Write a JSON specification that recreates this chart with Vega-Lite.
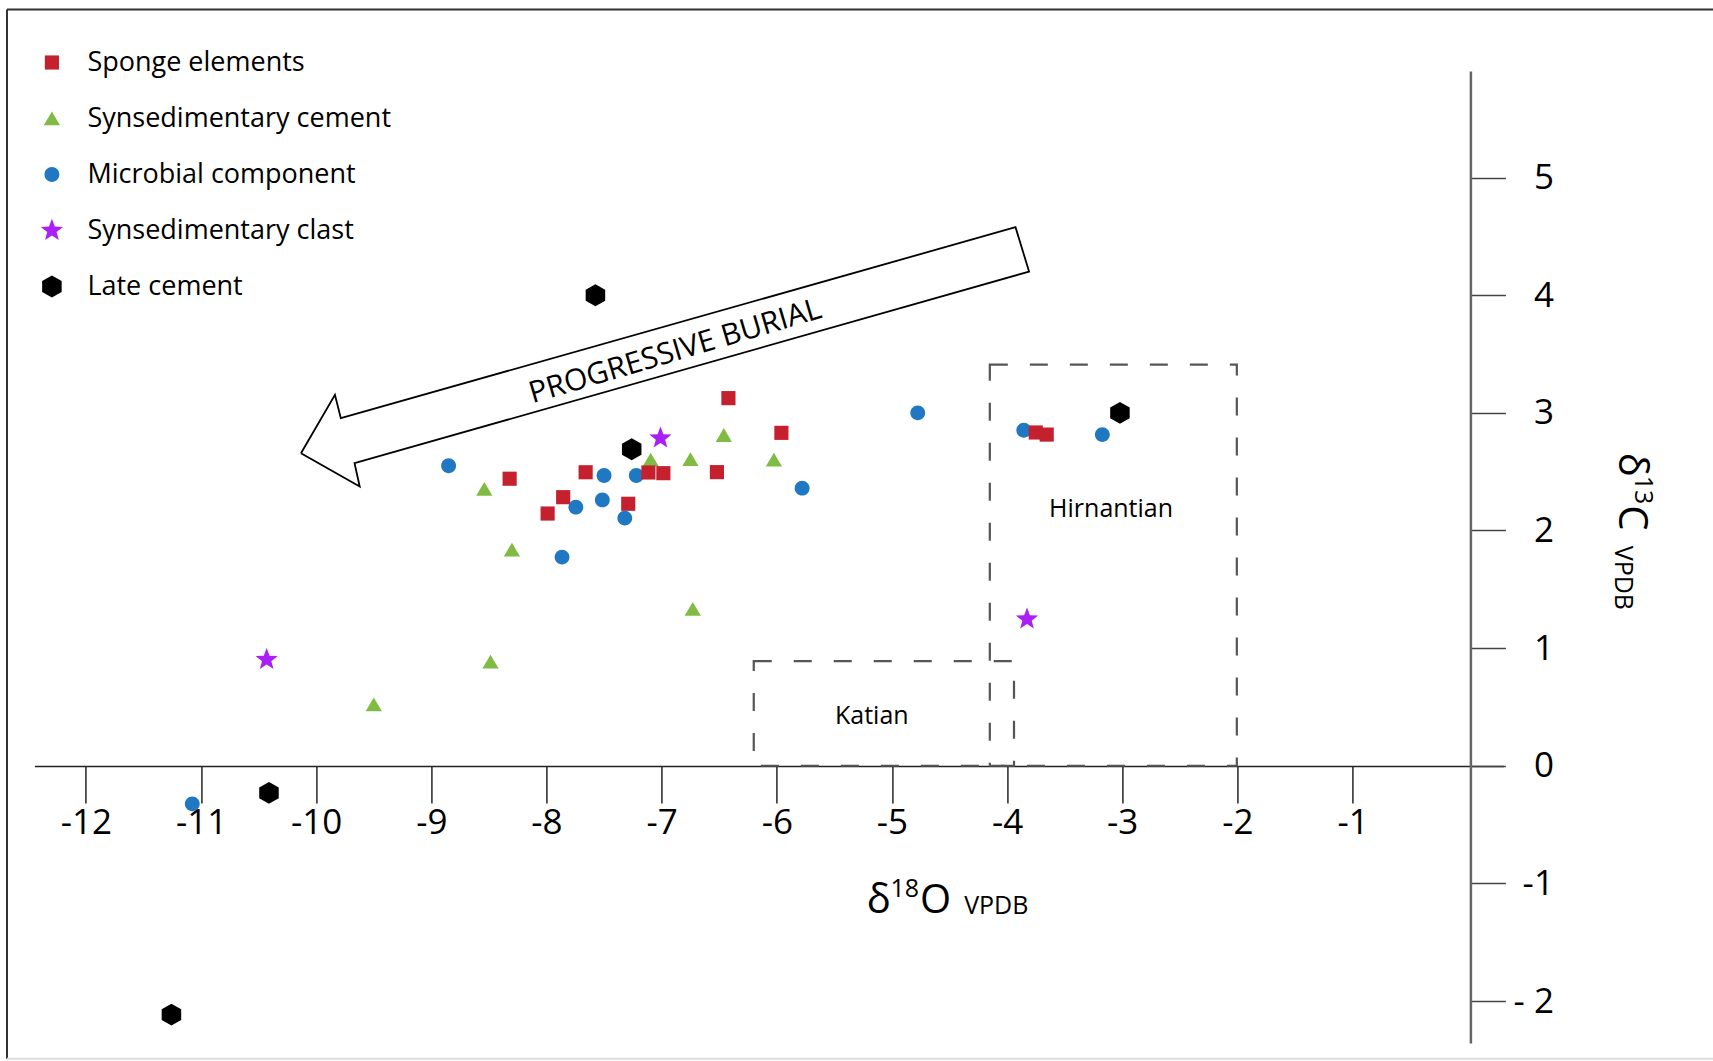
{
  "$schema": "https://vega.github.io/schema/vega-lite/v6.json",
  "width": 1469,
  "height": 972,
  "padding": {"left": 34.4, "top": 71, "right": 209.6, "bottom": 18},
  "autosize": {"type": "none"},
  "background": "white",
  "config": {
    "view": {"stroke": null},
    "font": "Open Sans",
    "text": {"font": "Open Sans", "color": "black"},
    "axisX": {
      "orient": "bottom", "offset": -277, "grid": false, "tickSize": 37, "tickWidth": 1.6, "tickColor": "#333",
      "domainColor": "#222", "domainWidth": 1.6, "labelFontSize": 35, "labelFont": "Open Sans",
      "labelColor": "black", "labelPadding": 2, "labelFlush": false, "labelOverlap": false
    },
    "axisY": {
      "orient": "right", "offset": -33, "grid": false, "tickSize": 35, "tickWidth": 1.6, "tickColor": "#444",
      "domainColor": "#666", "domainWidth": 2.5, "labelFontSize": 35, "labelFont": "Open Sans",
      "labelColor": "black", "labelPadding": 48, "labelAlign": "right", "labelBaseline": "middle",
      "labelFlush": false, "labelOverlap": false
    }
  },
  "datasets": {
    "points": [
      {"type": "Late cement", "d18O": -7.575, "d13C": 4.0},
      {"type": "Sponge elements", "d18O": -6.42, "d13C": 3.125},
      {"type": "Synsedimentary clast", "d18O": -7.01, "d13C": 2.785},
      {"type": "Synsedimentary cement", "d18O": -6.46, "d13C": 2.81},
      {"type": "Sponge elements", "d18O": -5.96, "d13C": 2.83},
      {"type": "Late cement", "d18O": -7.26, "d13C": 2.69},
      {"type": "Microbial component", "d18O": -8.85, "d13C": 2.55},
      {"type": "Synsedimentary cement", "d18O": -7.095, "d13C": 2.6},
      {"type": "Synsedimentary cement", "d18O": -6.75, "d13C": 2.605},
      {"type": "Synsedimentary cement", "d18O": -6.025, "d13C": 2.6},
      {"type": "Sponge elements", "d18O": -8.32, "d13C": 2.44},
      {"type": "Sponge elements", "d18O": -7.66, "d13C": 2.495},
      {"type": "Microbial component", "d18O": -7.5, "d13C": 2.467},
      {"type": "Microbial component", "d18O": -7.22, "d13C": 2.467},
      {"type": "Sponge elements", "d18O": -7.115, "d13C": 2.493},
      {"type": "Sponge elements", "d18O": -6.985, "d13C": 2.487},
      {"type": "Sponge elements", "d18O": -6.52, "d13C": 2.496},
      {"type": "Microbial component", "d18O": -5.78, "d13C": 2.36},
      {"type": "Synsedimentary cement", "d18O": -8.54, "d13C": 2.352},
      {"type": "Sponge elements", "d18O": -7.855, "d13C": 2.283},
      {"type": "Microbial component", "d18O": -7.515, "d13C": 2.26},
      {"type": "Microbial component", "d18O": -7.745, "d13C": 2.198},
      {"type": "Sponge elements", "d18O": -7.99, "d13C": 2.144},
      {"type": "Sponge elements", "d18O": -7.29, "d13C": 2.227},
      {"type": "Microbial component", "d18O": -7.32, "d13C": 2.105},
      {"type": "Synsedimentary cement", "d18O": -8.3, "d13C": 1.836},
      {"type": "Microbial component", "d18O": -7.865, "d13C": 1.774},
      {"type": "Synsedimentary cement", "d18O": -6.73, "d13C": 1.332},
      {"type": "Microbial component", "d18O": -4.776, "d13C": 3.0},
      {"type": "Microbial component", "d18O": -3.855, "d13C": 2.852},
      {"type": "Sponge elements", "d18O": -3.751, "d13C": 2.833},
      {"type": "Sponge elements", "d18O": -3.656, "d13C": 2.815},
      {"type": "Microbial component", "d18O": -3.173, "d13C": 2.815},
      {"type": "Late cement", "d18O": -3.02, "d13C": 3.0},
      {"type": "Synsedimentary clast", "d18O": -3.827, "d13C": 1.246},
      {"type": "Synsedimentary clast", "d18O": -10.43, "d13C": 0.902},
      {"type": "Synsedimentary cement", "d18O": -9.5, "d13C": 0.521},
      {"type": "Synsedimentary cement", "d18O": -8.486, "d13C": 0.884},
      {"type": "Late cement", "d18O": -10.41, "d13C": -0.231},
      {"type": "Microbial component", "d18O": -11.076, "d13C": -0.324},
      {"type": "Late cement", "d18O": -11.257, "d13C": -2.116}
    ],
    "boxes": [
      {"name": "Katian", "x1": -6.2, "x2": -3.94, "y1": 0, "y2": 0.89},
      {"name": "Hirnantian", "x1": -4.15, "x2": -2.005, "y1": 0, "y2": 3.41}
    ],
    "arrow": [
      {"i": 0, "d18O": -10.132, "d13C": 2.657},
      {"i": 1, "d18O": -9.837, "d13C": 3.153},
      {"i": 2, "d18O": -9.786, "d13C": 2.955},
      {"i": 3, "d18O": -3.927, "d13C": 4.578},
      {"i": 4, "d18O": -3.809, "d13C": 4.201},
      {"i": 5, "d18O": -9.667, "d13C": 2.572},
      {"i": 6, "d18O": -9.622, "d13C": 2.374},
      {"i": 7, "d18O": -10.132, "d13C": 2.657}
    ],
    "one": [{}]
  },
  "layer": [
    {
      "data": {"name": "boxes"},
      "mark": {"type": "rect", "filled": false, "stroke": "#555", "strokeWidth": 2.2, "strokeDash": [18, 22]},
      "encoding": {
        "x": {"field": "x1", "type": "quantitative", "scale": {"domain": [-12.447, 0.31], "nice": false, "zero": false}, "axis": {"title": null, "values": [-12, -11, -10, -9, -8, -7, -6, -5, -4, -3, -2, -1], "labelExpr": "'' + datum.value"}},
        "x2": {"field": "x2"},
        "y": {"field": "y1", "type": "quantitative", "scale": {"domain": [-2.357, 5.906], "nice": false, "zero": false}, "axis": {"title": null, "values": [-2, -1, 0, 1, 2, 3, 4, 5], "labelExpr": "datum.value == -2 ? '- 2' : '' + datum.value"}},
        "y2": {"field": "y2"}
      }
    },
    {
      "data": {"name": "arrow"},
      "mark": {"type": "line", "color": "black", "strokeWidth": 1.8, "strokeJoin": "miter"},
      "encoding": {
        "x": {"field": "d18O", "type": "quantitative", "scale": {"domain": [-12.447, 0.31], "nice": false, "zero": false}, "axis": {"title": null, "values": [-12, -11, -10, -9, -8, -7, -6, -5, -4, -3, -2, -1], "labelExpr": "'' + datum.value"}},
        "y": {"field": "d13C", "type": "quantitative", "scale": {"domain": [-2.357, 5.906], "nice": false, "zero": false}, "axis": {"title": null, "values": [-2, -1, 0, 1, 2, 3, 4, 5], "labelExpr": "datum.value == -2 ? '- 2' : '' + datum.value"}},
        "order": {"field": "i", "type": "quantitative"}
      }
    },
    {
      "data": {"name": "points"},
      "mark": {"type": "point", "filled": true, "opacity": 1, "strokeWidth": 0, "size": 200},
      "encoding": {
        "x": {"field": "d18O", "type": "quantitative", "scale": {"domain": [-12.447, 0.31], "nice": false, "zero": false}, "axis": {"title": null, "values": [-12, -11, -10, -9, -8, -7, -6, -5, -4, -3, -2, -1], "labelExpr": "'' + datum.value"}},
        "y": {"field": "d13C", "type": "quantitative", "scale": {"domain": [-2.357, 5.906], "nice": false, "zero": false}, "axis": {"title": null, "values": [-2, -1, 0, 1, 2, 3, 4, 5], "labelExpr": "datum.value == -2 ? '- 2' : '' + datum.value"}},
        "color": {
          "field": "type", "type": "nominal",
          "scale": {
            "domain": ["Sponge elements", "Synsedimentary cement", "Microbial component", "Synsedimentary clast", "Late cement"],
            "range": ["#c4202e", "#80bc44", "#1f78c1", "#aa1ff5", "#000000"]
          },
          "legend": {
            "orient": "none", "legendX": 4, "legendY": -22, "title": null, "padding": 0,
            "labelFontSize": 27, "labelFont": "Open Sans", "labelColor": "black", "labelLimit": 500,
            "rowPadding": 28, "labelOffset": 22, "symbolStrokeWidth": 0, "symbolSize": 200
          }
        },
        "shape": {
          "field": "type", "type": "nominal",
          "scale": {
            "domain": ["Sponge elements", "Synsedimentary cement", "Microbial component", "Synsedimentary clast", "Late cement"],
            "range": [
              "square",
              "M0,-1L1.15,0.95L-1.15,0.95Z",
              "M1.05,0A1.05,1.05,0,1,1,-1.05,0A1.05,1.05,0,1,1,1.05,0Z",
              "M0,-1.65L0.41,-0.56L1.57,-0.51L0.66,0.22L0.97,1.33L0,0.69L-0.97,1.33L-0.66,0.22L-1.57,-0.51L-0.41,-0.56Z",
              "M0,-1.55L1.38,-0.77L1.38,0.77L0,1.55L-1.38,0.77L-1.38,-0.77Z"
            ]
          }
        }
      }
    },
    {
      "data": {"name": "one"},
      "mark": {"type": "rule", "color": "#333", "strokeWidth": 2},
      "encoding": {
        "x": {"datum": -12.685, "type": "quantitative", "scale": {"domain": [-12.447, 0.31], "nice": false, "zero": false}, "axis": {"title": null, "values": [-12, -11, -10, -9, -8, -7, -6, -5, -4, -3, -2, -1], "labelExpr": "'' + datum.value"}},
        "y": {"datum": 6.429, "type": "quantitative", "scale": {"domain": [-2.357, 5.906], "nice": false, "zero": false}, "axis": {"title": null, "values": [-2, -1, 0, 1, 2, 3, 4, 5], "labelExpr": "datum.value == -2 ? '- 2' : '' + datum.value"}},
        "y2": {"datum": -2.49}
      }
    },
    {
      "data": {"name": "one"},
      "mark": {"type": "rule", "color": "#333", "strokeWidth": 2},
      "encoding": {
        "x": {"datum": -12.685, "type": "quantitative", "scale": {"domain": [-12.447, 0.31], "nice": false, "zero": false}, "axis": {"title": null, "values": [-12, -11, -10, -9, -8, -7, -6, -5, -4, -3, -2, -1], "labelExpr": "'' + datum.value"}},
        "x2": {"datum": 2.4},
        "y": {"datum": 6.429, "type": "quantitative", "scale": {"domain": [-2.357, 5.906], "nice": false, "zero": false}, "axis": {"title": null, "values": [-2, -1, 0, 1, 2, 3, 4, 5], "labelExpr": "datum.value == -2 ? '- 2' : '' + datum.value"}}
      }
    },
    {
      "data": {"name": "one"},
      "mark": {"type": "rule", "color": "#dddddd", "strokeWidth": 2},
      "encoding": {
        "x": {"datum": -12.685, "type": "quantitative", "scale": {"domain": [-12.447, 0.31], "nice": false, "zero": false}, "axis": {"title": null, "values": [-12, -11, -10, -9, -8, -7, -6, -5, -4, -3, -2, -1], "labelExpr": "'' + datum.value"}},
        "x2": {"datum": 2.4},
        "y": {"datum": -2.49, "type": "quantitative", "scale": {"domain": [-2.357, 5.906], "nice": false, "zero": false}, "axis": {"title": null, "values": [-2, -1, 0, 1, 2, 3, 4, 5], "labelExpr": "datum.value == -2 ? '- 2' : '' + datum.value"}}
      }
    },
    {
      "data": {"name": "one"},
      "mark": {"type": "text", "text": "Katian", "fontSize": 25, "align": "center", "baseline": "middle"},
      "encoding": {
        "x": {"datum": -5.175, "type": "quantitative", "scale": {"domain": [-12.447, 0.31], "nice": false, "zero": false}, "axis": {"title": null, "values": [-12, -11, -10, -9, -8, -7, -6, -5, -4, -3, -2, -1], "labelExpr": "'' + datum.value"}},
        "y": {"datum": 0.419, "type": "quantitative", "scale": {"domain": [-2.357, 5.906], "nice": false, "zero": false}, "axis": {"title": null, "values": [-2, -1, 0, 1, 2, 3, 4, 5], "labelExpr": "datum.value == -2 ? '- 2' : '' + datum.value"}}
      }
    },
    {
      "data": {"name": "one"},
      "mark": {"type": "text", "text": "Hirnantian", "fontSize": 25, "align": "center", "baseline": "middle"},
      "encoding": {
        "x": {"datum": -3.097, "type": "quantitative", "scale": {"domain": [-12.447, 0.31], "nice": false, "zero": false}, "axis": {"title": null, "values": [-12, -11, -10, -9, -8, -7, -6, -5, -4, -3, -2, -1], "labelExpr": "'' + datum.value"}},
        "y": {"datum": 2.183, "type": "quantitative", "scale": {"domain": [-2.357, 5.906], "nice": false, "zero": false}, "axis": {"title": null, "values": [-2, -1, 0, 1, 2, 3, 4, 5], "labelExpr": "datum.value == -2 ? '- 2' : '' + datum.value"}}
      }
    },
    {
      "data": {"name": "one"},
      "mark": {"type": "text", "text": "PROGRESSIVE BURIAL", "fontSize": 30, "angle": -16.5, "align": "center", "baseline": "middle"},
      "encoding": {
        "x": {"datum": -6.882, "type": "quantitative", "scale": {"domain": [-12.447, 0.31], "nice": false, "zero": false}, "axis": {"title": null, "values": [-12, -11, -10, -9, -8, -7, -6, -5, -4, -3, -2, -1], "labelExpr": "'' + datum.value"}},
        "y": {"datum": 3.52, "type": "quantitative", "scale": {"domain": [-2.357, 5.906], "nice": false, "zero": false}, "axis": {"title": null, "values": [-2, -1, 0, 1, 2, 3, 4, 5], "labelExpr": "datum.value == -2 ? '- 2' : '' + datum.value"}}
      }
    },
    {
      "data": {"name": "one"},
      "mark": {"type": "text", "text": "δ", "fontSize": 40, "align": "left", "baseline": "alphabetic"},
      "encoding": {
        "x": {"datum": -5.219, "type": "quantitative", "scale": {"domain": [-12.447, 0.31], "nice": false, "zero": false}, "axis": {"title": null, "values": [-12, -11, -10, -9, -8, -7, -6, -5, -4, -3, -2, -1], "labelExpr": "'' + datum.value"}},
        "y": {"datum": -1.249, "type": "quantitative", "scale": {"domain": [-2.357, 5.906], "nice": false, "zero": false}, "axis": {"title": null, "values": [-2, -1, 0, 1, 2, 3, 4, 5], "labelExpr": "datum.value == -2 ? '- 2' : '' + datum.value"}}
      }
    },
    {
      "data": {"name": "one"},
      "mark": {"type": "text", "text": "18", "fontSize": 25, "align": "left", "baseline": "alphabetic"},
      "encoding": {
        "x": {"datum": -5.012, "type": "quantitative", "scale": {"domain": [-12.447, 0.31], "nice": false, "zero": false}, "axis": {"title": null, "values": [-12, -11, -10, -9, -8, -7, -6, -5, -4, -3, -2, -1], "labelExpr": "'' + datum.value"}},
        "y": {"datum": -1.113, "type": "quantitative", "scale": {"domain": [-2.357, 5.906], "nice": false, "zero": false}, "axis": {"title": null, "values": [-2, -1, 0, 1, 2, 3, 4, 5], "labelExpr": "datum.value == -2 ? '- 2' : '' + datum.value"}}
      }
    },
    {
      "data": {"name": "one"},
      "mark": {"type": "text", "text": "O", "fontSize": 40, "align": "left", "baseline": "alphabetic"},
      "encoding": {
        "x": {"datum": -4.756, "type": "quantitative", "scale": {"domain": [-12.447, 0.31], "nice": false, "zero": false}, "axis": {"title": null, "values": [-12, -11, -10, -9, -8, -7, -6, -5, -4, -3, -2, -1], "labelExpr": "'' + datum.value"}},
        "y": {"datum": -1.249, "type": "quantitative", "scale": {"domain": [-2.357, 5.906], "nice": false, "zero": false}, "axis": {"title": null, "values": [-2, -1, 0, 1, 2, 3, 4, 5], "labelExpr": "datum.value == -2 ? '- 2' : '' + datum.value"}}
      }
    },
    {
      "data": {"name": "one"},
      "mark": {"type": "text", "text": "VPDB", "fontSize": 25, "align": "left", "baseline": "alphabetic"},
      "encoding": {
        "x": {"datum": -4.373, "type": "quantitative", "scale": {"domain": [-12.447, 0.31], "nice": false, "zero": false}, "axis": {"title": null, "values": [-12, -11, -10, -9, -8, -7, -6, -5, -4, -3, -2, -1], "labelExpr": "'' + datum.value"}},
        "y": {"datum": -1.258, "type": "quantitative", "scale": {"domain": [-2.357, 5.906], "nice": false, "zero": false}, "axis": {"title": null, "values": [-2, -1, 0, 1, 2, 3, 4, 5], "labelExpr": "datum.value == -2 ? '- 2' : '' + datum.value"}}
      }
    },
    {
      "data": {"name": "one"},
      "mark": {"type": "text", "text": "δ", "fontSize": 40, "align": "left", "baseline": "alphabetic", "angle": 90},
      "encoding": {
        "x": {"datum": 1.315, "type": "quantitative", "scale": {"domain": [-12.447, 0.31], "nice": false, "zero": false}, "axis": {"title": null, "values": [-12, -11, -10, -9, -8, -7, -6, -5, -4, -3, -2, -1], "labelExpr": "'' + datum.value"}},
        "y": {"datum": 2.66, "type": "quantitative", "scale": {"domain": [-2.357, 5.906], "nice": false, "zero": false}, "axis": {"title": null, "values": [-2, -1, 0, 1, 2, 3, 4, 5], "labelExpr": "datum.value == -2 ? '- 2' : '' + datum.value"}}
      }
    },
    {
      "data": {"name": "one"},
      "mark": {"type": "text", "text": "13", "fontSize": 25, "align": "left", "baseline": "alphabetic", "angle": 90},
      "encoding": {
        "x": {"datum": 1.454, "type": "quantitative", "scale": {"domain": [-12.447, 0.31], "nice": false, "zero": false}, "axis": {"title": null, "values": [-12, -11, -10, -9, -8, -7, -6, -5, -4, -3, -2, -1], "labelExpr": "'' + datum.value"}},
        "y": {"datum": 2.465, "type": "quantitative", "scale": {"domain": [-2.357, 5.906], "nice": false, "zero": false}, "axis": {"title": null, "values": [-2, -1, 0, 1, 2, 3, 4, 5], "labelExpr": "datum.value == -2 ? '- 2' : '' + datum.value"}}
      }
    },
    {
      "data": {"name": "one"},
      "mark": {"type": "text", "text": "C", "fontSize": 40, "align": "left", "baseline": "alphabetic", "angle": 90},
      "encoding": {
        "x": {"datum": 1.315, "type": "quantitative", "scale": {"domain": [-12.447, 0.31], "nice": false, "zero": false}, "axis": {"title": null, "values": [-12, -11, -10, -9, -8, -7, -6, -5, -4, -3, -2, -1], "labelExpr": "'' + datum.value"}},
        "y": {"datum": 2.214, "type": "quantitative", "scale": {"domain": [-2.357, 5.906], "nice": false, "zero": false}, "axis": {"title": null, "values": [-2, -1, 0, 1, 2, 3, 4, 5], "labelExpr": "datum.value == -2 ? '- 2' : '' + datum.value"}}
      }
    },
    {
      "data": {"name": "one"},
      "mark": {"type": "text", "text": "VPDB", "fontSize": 25, "align": "left", "baseline": "alphabetic", "angle": 90},
      "encoding": {
        "x": {"datum": 1.28, "type": "quantitative", "scale": {"domain": [-12.447, 0.31], "nice": false, "zero": false}, "axis": {"title": null, "values": [-12, -11, -10, -9, -8, -7, -6, -5, -4, -3, -2, -1], "labelExpr": "'' + datum.value"}},
        "y": {"datum": 1.87, "type": "quantitative", "scale": {"domain": [-2.357, 5.906], "nice": false, "zero": false}, "axis": {"title": null, "values": [-2, -1, 0, 1, 2, 3, 4, 5], "labelExpr": "datum.value == -2 ? '- 2' : '' + datum.value"}}
      }
    }
  ]
}
